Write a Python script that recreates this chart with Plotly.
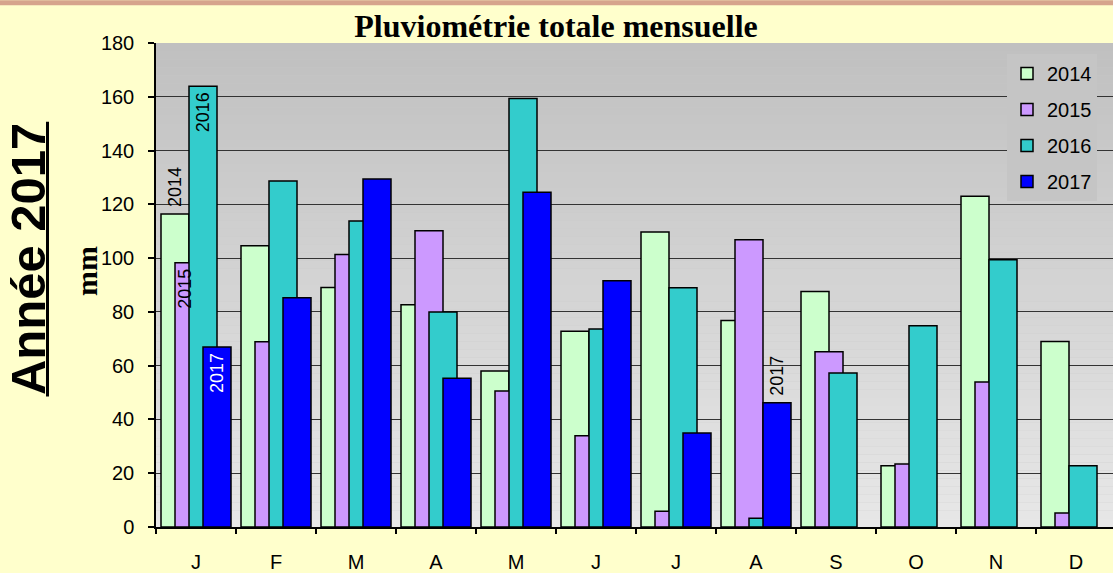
import plotly.graph_objects as go

months = ["J", "F", "M", "A", "M", "J", "J", "A", "S", "O", "N", "D"]
years = ["2014", "2015", "2016", "2017"]
rain_2014 = [116.4, 104.6, 89.1, 82.7, 58.0, 72.8, 109.7, 76.8, 87.6, 22.8, 123.0, 69.0]
rain_2015 = [98.3, 68.9, 101.3, 110.2, 50.6, 33.9, 5.9, 106.8, 65.2, 23.4, 53.9, 5.2]
rain_2016 = [163.9, 128.7, 113.8, 80.0, 159.4, 73.6, 89.0, 3.3, 57.3, 74.8, 99.4, 22.8]
rain_2017 = [66.9, 85.3, 129.4, 55.3, 124.5, 91.6, 35.0, 46.2, None, None, None, None]
series = [rain_2014, rain_2015, rain_2016, rain_2017]
colors = ["#CCFFCC", "#CC99FF", "#33CCCC", "#0000FF"]

# (series index, month index, placement, text colour)
bar_labels = [(0, 0, "above", "black"), (1, 0, "inside", "black"),
              (2, 0, "inside", "black"), (3, 0, "inside", "white"),
              (3, 7, "above", "black")]

W, H = 1113, 573
ML, MR, MT, MB = 156, 0, 43, 44


def px_x(px):
    return (px - ML) / (W - ML - MR)


def px_y(py):
    return (H - MB - py) / (H - MT - MB)


bar_w = 0.35
offsets = [-0.4375, -0.2625, -0.0875, 0.0875]
xs = list(range(len(months)))

fig = go.Figure()
for k, (yr, vals, col) in enumerate(zip(years, series, colors)):
    fig.add_trace(go.Bar(
        x=xs, y=vals, name=yr, width=bar_w, offset=offsets[k],
        marker=dict(color=col, line=dict(color="black", width=1.5)),
        legendgroup=yr,
    ))

# empty trace that activates the second x axis (boundary ticks)
fig.add_trace(go.Scatter(x=[], y=[], xaxis="x2", showlegend=False))

annotations = []
for s, m, place, tc in bar_labels:
    v = series[s][m]
    xc = m + offsets[s] + bar_w / 2
    annotations.append(dict(x=xc, y=v, xref="x", yref="y", text=years[s],
                            textangle=-90, showarrow=False,
                            yanchor="bottom" if place == "above" else "top",
                            yshift=5 if place == "above" else -4,
                            xshift=-4 if s == 1 else 0,
                            font=dict(size=18, color=tc, family="Liberation Sans, Arial")))

annotations.append(dict(x=px_x(28), y=px_y(260), xref="paper", yref="paper", text="<b>Année 2017</b>",
                        textangle=-90, showarrow=False, xanchor="center", yanchor="middle",
                        font=dict(size=49, color="black", family="Liberation Sans, Arial")))
annotations.append(dict(x=px_x(86), y=px_y(272), xref="paper", yref="paper", text="<b>mm</b>",
                        textangle=-90, showarrow=False, xanchor="center", yanchor="middle",
                        font=dict(size=30, color="black", family="Liberation Serif, Times New Roman, serif")))

shapes = []
# gradient background of plot area
n = 60
for i in range(n):
    t = i / (n - 1)
    g = round(192 + (231 - 192) * t)
    shapes.append(dict(type="rect", xref="x domain", yref="y domain",
                       x0=0, x1=1, y0=1 - (i + 1) / n, y1=1 - i / n,
                       fillcolor=f"rgb({g},{g},{g})", line=dict(width=0), layer="below"))
# top decorative band
shapes.append(dict(type="rect", xref="paper", yref="paper", x0=px_x(0), x1=px_x(W),
                   y0=px_y(5), y1=px_y(0),
                   fillcolor="rgb(214,164,140)", line=dict(width=0), layer="above"))
# underline of "Année 2017"
shapes.append(dict(type="line", xref="paper", yref="paper", x0=px_x(47.5), x1=px_x(47.5),
                   y0=px_y(398), y1=px_y(122), line=dict(color="black", width=3)))

xr = [-0.5, 11.5 - 3 / 80]
fig.update_layout(
    width=W, height=H,
    margin=dict(l=ML, r=MR, t=MT, b=MB),
    paper_bgcolor="#FFFFCC", plot_bgcolor="#C8C8C8",
    barmode="overlay",
    title=dict(text="<b>Pluviométrie totale mensuelle</b>", x=556 / W, xanchor="center",
               y=1 - 26 / H, yanchor="middle", yref="container",
               font=dict(size=32, color="black", family="Liberation Serif, Times New Roman, serif")),
    xaxis=dict(range=xr, tickvals=xs, ticktext=months, ticks="", showgrid=False,
               showline=True, linecolor="black", linewidth=1.5, zeroline=False,
               ticklabelstandoff=16,
               tickfont=dict(size=20, color="black", family="Liberation Sans, Arial")),
    xaxis2=dict(range=xr, overlaying="x", side="bottom", tickvals=[i - 0.5 for i in range(13)],
                ticks="outside", ticklen=6, tickcolor="black", tickwidth=1.5,
                showticklabels=False, showgrid=False, zeroline=False, showline=False),
    yaxis=dict(range=[0, 180], dtick=20, ticks="outside", ticklen=6, tickcolor="black",
               tickwidth=1.5, showline=True, linecolor="black", linewidth=1.5,
               gridcolor="#333333", gridwidth=1, zeroline=False, ticklabelstandoff=10,
               tickfont=dict(size=20, color="black", family="Liberation Sans, Arial")),
    legend=dict(x=px_x(1007), xanchor="left", y=px_y(54), yanchor="top",
                bgcolor="rgb(197,197,197)", borderwidth=0,
                font=dict(size=20, color="black", family="Liberation Sans, Arial"),
                traceorder="grouped", tracegroupgap=7),
    annotations=annotations, shapes=shapes,
    showlegend=True,
)

fig.write_html("out.html", config={"displayModeBar": False},
               post_script="document.body.style.margin='0';document.body.style.overflow='hidden';")
